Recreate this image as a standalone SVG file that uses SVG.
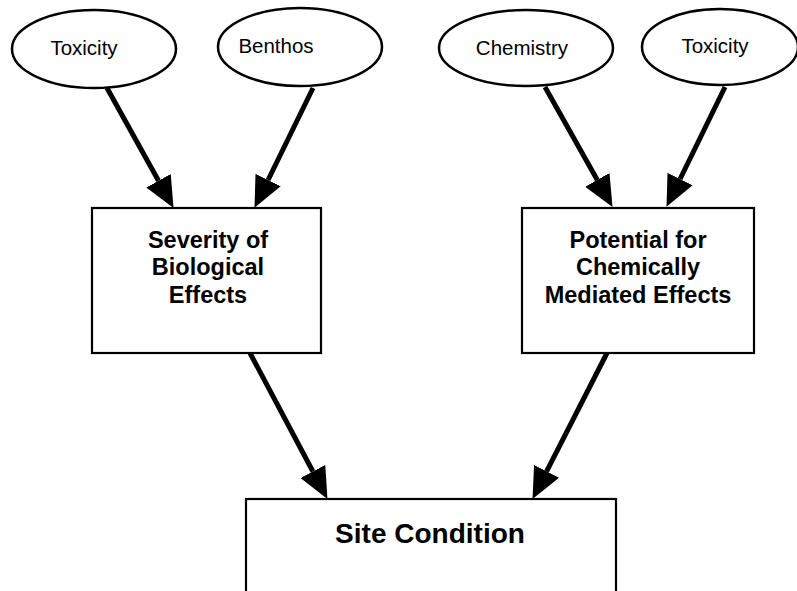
<svg xmlns="http://www.w3.org/2000/svg" width="797" height="591" viewBox="0 0 797 591">
<defs>
<marker id="ah" markerUnits="userSpaceOnUse" markerWidth="32" markerHeight="30" refX="0" refY="14" orient="auto" viewBox="0 0 32 28">
<path d="M0,0 L31,14 L0,28 z" fill="#000"/>
</marker>
<style>
.ell{fill:#fff;stroke:#000;stroke-width:2.5}
.box{fill:#fff;stroke:#000;stroke-width:2.2}
.et{font-family:"Liberation Sans",Arial,sans-serif;font-size:20.5px;fill:#000;text-anchor:middle}
.bt{font-family:"Liberation Sans",Arial,sans-serif;font-size:23.5px;font-weight:bold;fill:#000;text-anchor:middle}
.st{font-family:"Liberation Sans",Arial,sans-serif;font-size:28px;font-weight:bold;fill:#000;text-anchor:middle}
.arr{stroke:#000;stroke-width:5;fill:none;marker-end:url(#ah)}
</style>
</defs>
<rect width="797" height="591" fill="#fff"/>
<g id="connectors">
<line class="arr" x1="107" y1="88" x2="158.5" y2="180.8"/>
<line class="arr" x1="313" y1="88" x2="268.1" y2="180"/>
<line class="arr" x1="545" y1="87" x2="597.3" y2="179.9"/>
<line class="arr" x1="725" y1="87" x2="680.1" y2="179"/>
<line class="arr" x1="250" y1="353" x2="312.9" y2="471.5"/>
<line class="arr" x1="607" y1="353" x2="546.6" y2="471.3"/>
</g>
<g id="toxicity1">
<ellipse class="ell" cx="94" cy="49" rx="82" ry="39"/>
<text class="et" x="84" y="55">Toxicity</text>
</g>
<g id="benthos">
<ellipse class="ell" cx="300" cy="47" rx="82" ry="39"/>
<text class="et" x="276" y="53">Benthos</text>
</g>
<g id="chemistry">
<ellipse class="ell" cx="526" cy="48" rx="87" ry="38"/>
<text class="et" x="522" y="55">Chemistry</text>
</g>
<g id="toxicity2">
<ellipse class="ell" cx="720" cy="47" rx="78" ry="38"/>
<text class="et" x="715" y="53">Toxicity</text>
</g>
<g id="severity">
<rect class="box" x="92" y="208" width="229" height="145"/>
<text class="bt" x="208" y="248">Severity of</text>
<text class="bt" x="208" y="275">Biological</text>
<text class="bt" x="208" y="303">Effects</text>
</g>
<g id="potential">
<rect class="box" x="522" y="208" width="232" height="145"/>
<text class="bt" x="638" y="248">Potential for</text>
<text class="bt" x="638" y="275">Chemically</text>
<text class="bt" x="638" y="303">Mediated Effects</text>
</g>
<g id="site">
<rect class="box" x="246" y="499" width="370" height="110"/>
<text class="st" x="430" y="543">Site Condition</text>
</g>
</svg>
